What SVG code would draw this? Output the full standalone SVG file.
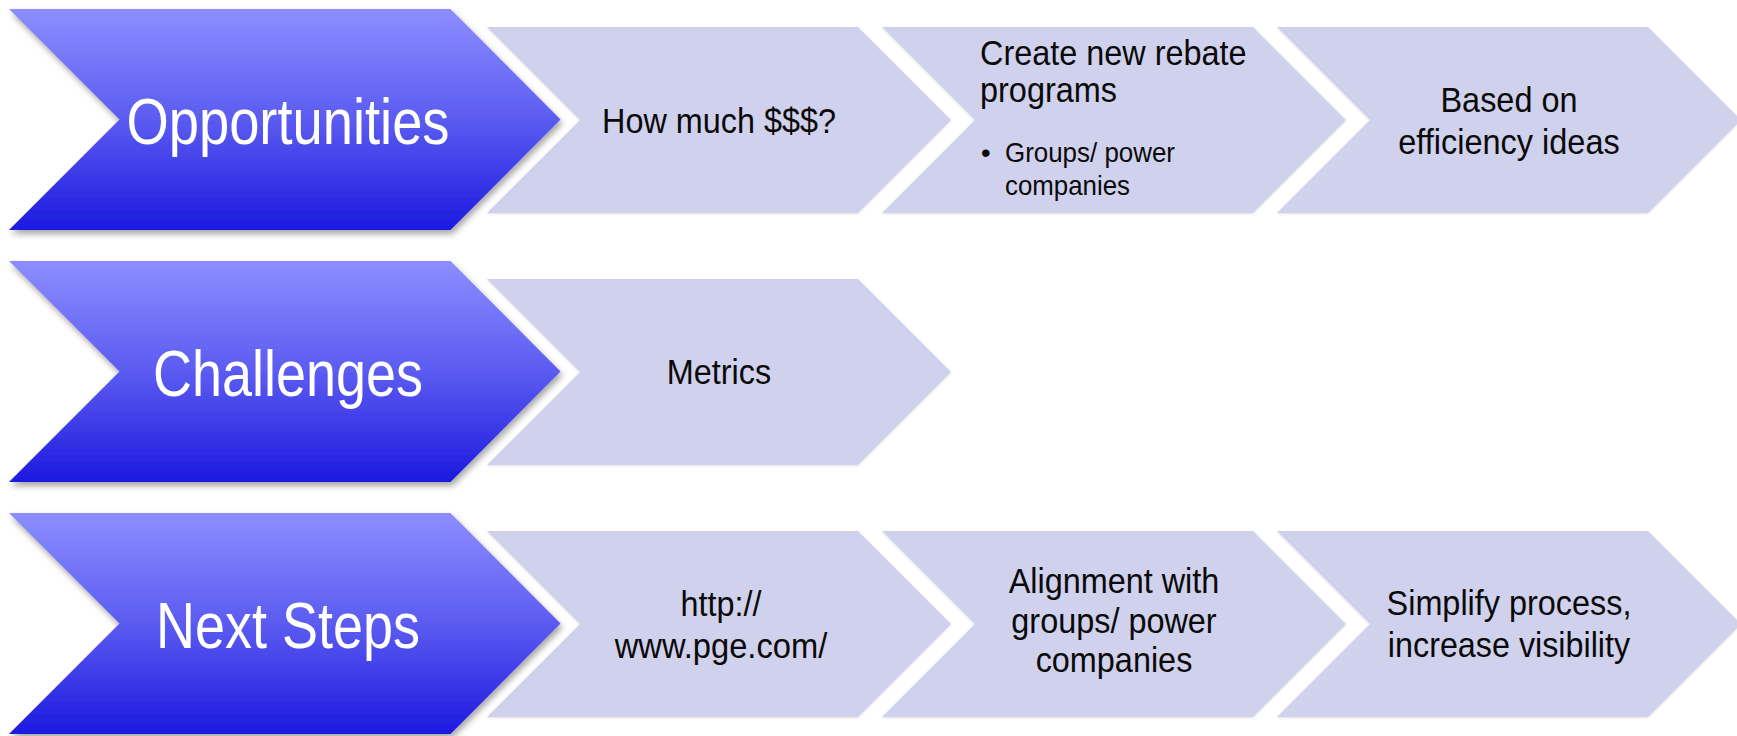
<svg xmlns="http://www.w3.org/2000/svg" xmlns:xlink="http://www.w3.org/1999/xlink" width="1737" height="736" viewBox="0 0 1737 736">
  <defs>
    <linearGradient id="bigGrad" x1="0" y1="0" x2="0" y2="1">
      <stop offset="0" stop-color="#8c8eff"/>
      <stop offset="0.5" stop-color="#5b5bf1"/>
      <stop offset="1" stop-color="#1d19df"/>
    </linearGradient>
    <filter id="bigShadow" x="-5%" y="-5%" width="112%" height="115%">
      <feDropShadow dx="2" dy="4" stdDeviation="3" flood-color="#000" flood-opacity="0.35"/>
    </filter>
    <filter id="smallShadow" x="-5%" y="-5%" width="110%" height="112%">
      <feDropShadow dx="0" dy="1" stdDeviation="1" flood-color="#000" flood-opacity="0.12"/>
    </filter>
    <path id="bigChev" d="M0,0 H441.5 L551.5,110.5 L441.5,221 H0 L110.5,110.5 Z"/>
    <path id="smallChev" d="M0,0 H371 L464,93 L371,186 H0 L93,93 Z"/>
  </defs>
  <style>
    .big { fill: url(#bigGrad); filter: url(#bigShadow); }
    .small { fill: #d0d1ec; filter: url(#smallShadow); }
    .bigText { font-family: "Liberation Sans", Arial, sans-serif; font-size: 65px; fill: #ffffff; text-anchor: middle; }
    .txt { font-family: "Liberation Sans", Arial, sans-serif; font-size: 35px; fill: #0a0a0a; text-anchor: middle; }
    .txtL { font-family: "Liberation Sans", Arial, sans-serif; font-size: 35px; fill: #0a0a0a; }
    .bul { font-family: "Liberation Sans", Arial, sans-serif; font-size: 27.5px; fill: #0a0a0a; }
  </style>
  <rect width="1737" height="736" fill="#ffffff"/>

  <!-- Row 1 -->
  <g id="n_opportunities">
    <use xlink:href="#bigChev" href="#bigChev" x="9" y="9" class="big"/>
    <text class="bigText" x="288" y="143.5" textLength="323" lengthAdjust="spacingAndGlyphs">Opportunities</text>
  </g>
  <g id="n_how_much">
    <use xlink:href="#smallChev" href="#smallChev" x="487" y="27" class="small"/>
    <text class="txt" x="719" y="133" textLength="234" lengthAdjust="spacingAndGlyphs">How much $$$?</text>
  </g>
  <g id="n_rebate">
    <use xlink:href="#smallChev" href="#smallChev" x="882" y="27" class="small"/>
    <text class="txtL" x="980" y="65" textLength="266.5" lengthAdjust="spacingAndGlyphs">Create new rebate</text>
    <text class="txtL" x="980" y="102" textLength="137" lengthAdjust="spacingAndGlyphs">programs</text>
    <text class="bul" x="981" y="162">•</text>
    <text class="bul" x="1005" y="162" textLength="170" lengthAdjust="spacingAndGlyphs">Groups/ power</text>
    <text class="bul" x="1005" y="195" textLength="125" lengthAdjust="spacingAndGlyphs">companies</text>
  </g>
  <g id="n_based_on">
    <use xlink:href="#smallChev" href="#smallChev" x="1277" y="27" class="small"/>
    <text class="txt" x="1509" y="112" textLength="137" lengthAdjust="spacingAndGlyphs">Based on</text>
    <text class="txt" x="1509" y="154" textLength="221.5" lengthAdjust="spacingAndGlyphs">efficiency ideas</text>
  </g>

  <!-- Row 2 -->
  <g id="n_challenges">
    <use xlink:href="#bigChev" href="#bigChev" x="9" y="261" class="big"/>
    <text class="bigText" x="288" y="395.5" textLength="270" lengthAdjust="spacingAndGlyphs">Challenges</text>
  </g>
  <g id="n_metrics">
    <use xlink:href="#smallChev" href="#smallChev" x="487" y="279" class="small"/>
    <text class="txt" x="719" y="384" textLength="104.5" lengthAdjust="spacingAndGlyphs">Metrics</text>
  </g>

  <!-- Row 3 -->
  <g id="n_next_steps">
    <use xlink:href="#bigChev" href="#bigChev" x="9" y="513" class="big"/>
    <text class="bigText" x="288" y="647.5" textLength="264" lengthAdjust="spacingAndGlyphs">Next Steps</text>
  </g>
  <g id="n_pge">
    <use xlink:href="#smallChev" href="#smallChev" x="487" y="531" class="small"/>
    <text class="txt" x="721" y="616" textLength="81" lengthAdjust="spacingAndGlyphs">http://</text>
    <text class="txt" x="721" y="658" textLength="212.5" lengthAdjust="spacingAndGlyphs">www.pge.com/</text>
  </g>
  <g id="n_alignment">
    <use xlink:href="#smallChev" href="#smallChev" x="882" y="531" class="small"/>
    <text class="txt" x="1114" y="593" textLength="210.7" lengthAdjust="spacingAndGlyphs">Alignment with</text>
    <text class="txt" x="1114" y="632.5" textLength="205.3" lengthAdjust="spacingAndGlyphs">groups/ power</text>
    <text class="txt" x="1114" y="672" textLength="156.7" lengthAdjust="spacingAndGlyphs">companies</text>
  </g>
  <g id="n_simplify">
    <use xlink:href="#smallChev" href="#smallChev" x="1277" y="531" class="small"/>
    <text class="txt" x="1509" y="615" textLength="244.8" lengthAdjust="spacingAndGlyphs">Simplify process,</text>
    <text class="txt" x="1509" y="657" textLength="242.3" lengthAdjust="spacingAndGlyphs">increase visibility</text>
  </g>

  <g id="connectors"/>
</svg>
